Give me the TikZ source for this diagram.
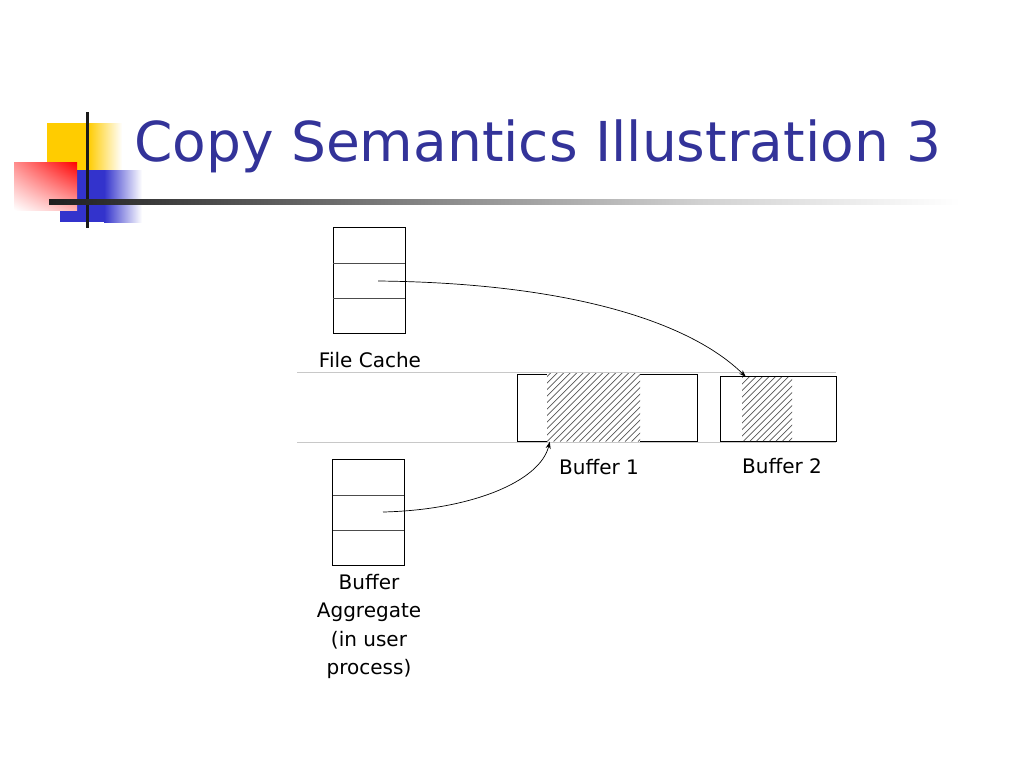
\documentclass[tikz,border=0pt]{standalone}
\usepackage{fontspec}
\setmainfont{DejaVu Sans}
\usetikzlibrary{arrows.meta,shadings}
\definecolor{titleblue}{HTML}{333399}
\definecolor{logoyellow}{HTML}{FFCC00}
\definecolor{logoblue}{HTML}{3333CC}
\definecolor{sepgray}{HTML}{C8C8C8}
\definecolor{hatchgray}{HTML}{555555}
\tikzset{
  stack/.style={draw=black, line width=0.8pt, minimum width=72pt, minimum height=106pt, inner sep=0pt},
  bufbox/.style={draw=black, line width=0.8pt, inner sep=0pt},
  hatchbox/.style={fill=white, inner sep=0pt},
  divider/.style={draw=black!70, line width=0.8pt},
  sep/.style={draw=sepgray, line width=0.9pt},
  hatchline/.style={draw=hatchgray, line width=0.7pt},
  lbl/.style={font=\fontsize{20}{28.5}\selectfont, inner sep=0pt, align=center},
  conn/.style={draw=black, line width=0.7pt, -{Stealth[length=7pt,width=5pt]}}
}
\begin{document}
\begin{tikzpicture}[x=1pt,y=-1pt]
\useasboundingbox (0,0) rectangle (1024,768);
\fill[white] (0,0) rectangle (1024,768);

% logo
\fill[logoyellow] (47,123) rectangle (88,170);
\shade[left color=logoyellow, right color=white] (88,123) rectangle (122,170);
\fill[logoblue] (60,170) rectangle (104,222);
\shade[left color=logoblue, right color=white] (104,170) rectangle (142,222);
\shade[upper left=red!45, upper right=red, lower left=white, lower right=red!30] (14,162) rectangle (77,210);
\draw[line width=3pt, black!90] (87,112) -- (87,228);
\shade[left color=black!88, right color=black!18] (49,199.5) rectangle (700,204);
\shade[left color=black!18, right color=white] (700,199.5) rectangle (960,204);

% title
\node[anchor=base west, inner sep=0pt, text=titleblue, font=\fontsize{55}{60}\selectfont] (title) at (134,161) {Copy Semantics Illustration 3};

% separators
\draw[sep] (297,372.5) -- (836,372.5);
\draw[sep] (297,442) -- (836,442);

% file cache stack
\node[stack] (fc) at (369,280) {};
\draw[divider] (333,263) -- (405,263);
\draw[divider] (333,298) -- (405,298);
\coordinate (fcmid) at (378,281);
\node[lbl] (fclbl) at (370,360) {File Cache};

% buffer aggregate stack
\node[stack] (ba) at (368.5,512.5) {};
\draw[divider] (333,495) -- (404,495);
\draw[divider] (333,530) -- (404,530);
\coordinate (bamid) at (383,512);
\node[lbl] (balbl) at (369,626.5) {Buffer\\Aggregate\\(in user\\process)};

% buffer 1
\node[bufbox, minimum width=180pt, minimum height=67pt] (b1) at (607,407.5) {};
\node[hatchbox, minimum width=93pt, minimum height=68.5pt] (h1) at (593.5,407.25) {};
\begin{scope}
\clip (547,373) rectangle (640,441.5);
\foreach \i in {-78,-71.5,...,100} \draw[hatchline] (547+\i,441.5) -- ++(80,-80);
\end{scope}
\node[lbl] (b1lbl) at (599,467) {Buffer 1};

% buffer 2
\node[bufbox, minimum width=116pt, minimum height=65pt] (b2) at (778,408.5) {};
\node[hatchbox, minimum width=50pt, minimum height=64pt] (h2) at (767,409) {};
\begin{scope}
\clip (742,377) rectangle (792,441);
\foreach \i in {-70,-63.5,...,60} \draw[hatchline] (742+\i,441) -- ++(80,-80);
\end{scope}
\node[lbl] (b2lbl) at (782,466) {Buffer 2};

% connectors
\draw[conn] (fcmid) .. controls (570,283) and (690,322) .. ([xshift=4pt]h2.north west);
\draw[conn] (bamid) .. controls (470,510) and (540,482) .. ([xshift=3pt]h1.south west);
\end{tikzpicture}
\end{document}
